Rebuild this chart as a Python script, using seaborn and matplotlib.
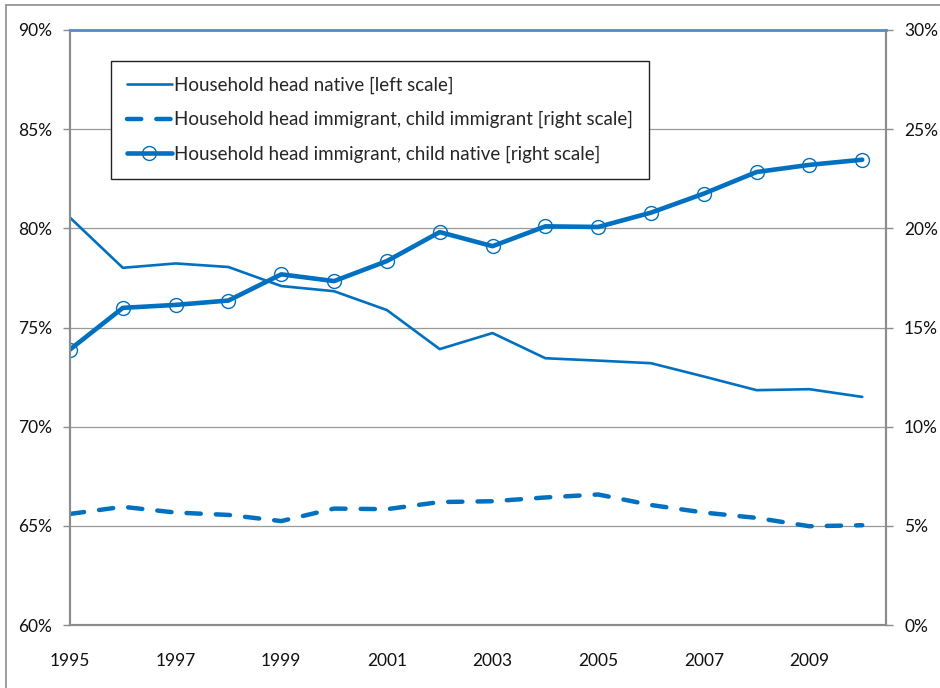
import pandas as pd
import seaborn as sns
import matplotlib.pyplot as plt
from matplotlib.ticker import FuncFormatter, MultipleLocator
from matplotlib.transforms import ScaledTranslation
from matplotlib.lines import Line2D

years = list(range(1995, 2011))
# left scale, %
head_native = [80.54, 78.01, 78.23, 78.05, 77.09, 76.83, 75.88, 73.91,
               74.72, 73.45, 73.33, 73.2, 72.53, 71.84, 71.89, 71.5]
# right scale, %
imm_child_imm = [5.6, 5.96, 5.67, 5.55, 5.24, 5.87, 5.84, 6.2,
                 6.24, 6.43, 6.58, 6.05, 5.67, 5.4, 4.98, 5.03]
imm_child_native = [13.89, 15.99, 16.14, 16.36, 17.68, 17.34, 18.35, 19.81,
                    19.1, 20.1, 20.07, 20.79, 21.75, 22.84, 23.2, 23.46]
labels = ["Household head native [left scale]",
          "Household head immigrant, child immigrant [right scale]",
          "Household head immigrant, child native [right scale]"]

df = pd.DataFrame({"year": years, "native": head_native,
                   "imm_imm": imm_child_imm, "imm_nat": imm_child_native})

sns.set_style("white")
plt.rcParams['font.family'] = ['Lato', 'DejaVu Sans']
blue = "#0070C0"
grid = "#8c8c8c"

fig = plt.figure(figsize=(9.4, 6.88), dpi=100)
ax = fig.add_axes([70/940, 1-625/688, (886-70)/940, (625-30)/688])
ax2 = ax.twinx()

sns.lineplot(data=df, x="year", y="native", ax=ax, color=blue, lw=1.9,
             label=labels[0], legend=False)
sns.lineplot(data=df, x="year", y="imm_imm", ax=ax2, color=blue, lw=3.2,
             label=labels[1], legend=False)
ax2.lines[0].set_dashes((3.2, 3.4))
ax2.lines[0].set_dash_capstyle('round')
sns.lineplot(data=df, x="year", y="imm_nat", ax=ax2, color=blue, lw=3.3,
             marker='o', markersize=10, markerfacecolor='none',
             markeredgecolor=blue, markeredgewidth=1.0,
             label=labels[2], legend=False)

ax.set_xlim(1995, 2010.45)
ax.set_ylim(60, 90)
ax2.set_ylim(0, 30)
ax.yaxis.set_major_locator(MultipleLocator(5))
ax2.yaxis.set_major_locator(MultipleLocator(5))
pct = FuncFormatter(lambda v, p: f"{v:.0f}%")
ax.yaxis.set_major_formatter(pct)
ax2.yaxis.set_major_formatter(pct)

for v in range(65, 90, 5):
    ax.axhline(v, color="#999999", lw=0.9, zorder=0)

ax.set_xticks(years)
ax.set_xticklabels([str(y) if y % 2 == 1 else "" for y in years])
shift = ScaledTranslation(-30/100, 0, fig.dpi_scale_trans)
for t in ax.get_xticklabels():
    t.set_transform(t.get_transform() + shift)

ax.set_xlabel("")
ax.set_ylabel("")
ax2.set_ylabel("")

for a in (ax, ax2):
    for s in a.spines.values():
        s.set_color(grid)
        s.set_linewidth(1.5)
    a.spines['top'].set_color("#5a8ec8")
    a.spines['top'].set_linewidth(1.8)
    a.tick_params(axis='both', which='major', direction='out', length=5,
                  width=1, color=grid, labelsize=12.5, labelcolor="#111111")
ax.tick_params(axis='x', pad=15)
ax.tick_params(axis='y', pad=8)
ax2.tick_params(axis='y', pad=8)

handles = ax.get_lines()[:1] + ax2.get_lines()[:2]
leg = ax2.legend(handles, labels, loc='upper left',
                 bbox_to_anchor=(111/940, 1-61/688),
                 bbox_transform=fig.transFigure, borderaxespad=0,
                 fancybox=False, framealpha=1, edgecolor="#222222",
                 fontsize=13.5, handlelength=2.4, handletextpad=0.1,
                 labelspacing=0.9, borderpad=0.85)
leg.get_frame().set_linewidth(1.0)

# outer chart border
fig.add_artist(Line2D([6/940, 6/940], [0, 1-5/688], transform=fig.transFigure,
                      color=grid, lw=1.2))
fig.add_artist(Line2D([6/940, 1], [1-5/688, 1-5/688], transform=fig.transFigure,
                      color=grid, lw=1.2))

plt.savefig("out.png", dpi=100)
